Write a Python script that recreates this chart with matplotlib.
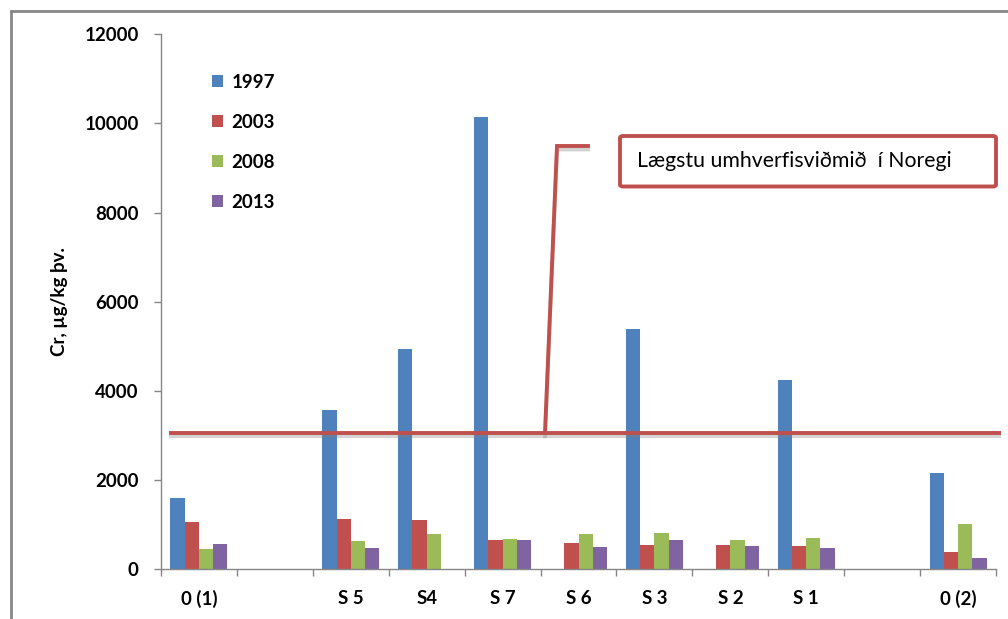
import numpy as np
import matplotlib
matplotlib.use("Agg")
import matplotlib.pyplot as plt
import matplotlib.patheffects as pe
from matplotlib.patches import FancyBboxPatch
from matplotlib.lines import Line2D

plt.rcParams['font.family'] = ['Lato', 'DejaVu Sans']

categories = ["0 (1)", "", "S 5", "S4", "S 7", "S 6", "S 3", "S 2", "S 1", "", "0 (2)"]
years = ["1997", "2003", "2008", "2013"]
v1997 = [1600, np.nan, 3580, 4950, 10150, np.nan, 5400, np.nan, 4250, np.nan, 2170]
v2003 = [1060, np.nan, 1130, 1100, 660, 590, 540, 540, 520, np.nan, 380]
v2008 = [450, np.nan, 640, 800, 680, 800, 820, 660, 700, np.nan, 1010]
v2013 = [560, np.nan, 470, np.nan, 660, 500, 660, 520, 470, np.nan, 260]
limit_value = 3060
limit_label = "Lægstu umhverfisviðmið  í Noregi"
ylabel = "Cr, µg/kg þv."
yticks = [0, 2000, 4000, 6000, 8000, 10000, 12000]

colors = ["#4F81BD", "#C0504D", "#9BBB59", "#8064A2"]
series = [v1997, v2003, v2008, v2013]

W, H = 1008, 619
fig = plt.figure(figsize=(W / 100, H / 100), dpi=100)

def fx(px):
    return px / W

def fy(py):
    return 1 - py / H

ax_l, ax_r, ax_t, ax_b = 161, 996, 34.3, 569.3
ax = fig.add_axes([fx(ax_l), fy(ax_b), fx(ax_r) - fx(ax_l), fy(ax_t) - fy(ax_b)])

x = np.arange(len(categories))
bw = 0.1875
for i, (vals, c, lab) in enumerate(zip(series, colors, years)):
    ax.bar(x + (i - 1.5) * bw, vals, width=bw, color=c, label=lab, linewidth=0)

ax.set_xlim(-0.5, len(categories) - 0.5)
ax.set_ylim(0, 12000)
ax.set_yticks(yticks)
ax.set_yticklabels([str(t) for t in yticks], fontsize=13.5, fontweight='bold')
ax.set_xticks(x)
ax.set_xticklabels(categories, fontsize=13.5, fontweight='bold')
ax.set_xticks(np.arange(len(categories) + 1) - 0.5, minor=True)
ax.tick_params(axis='x', which='major', length=0, pad=15)
ax.tick_params(axis='x', which='minor', length=5, color='#868686', width=1, direction='out')
ax.tick_params(axis='y', length=5, color='#868686', width=1, direction='out', pad=11)

for s in ['top', 'right']:
    ax.spines[s].set_visible(False)
for s in ['left', 'bottom']:
    ax.spines[s].set_color('#868686')
    ax.spines[s].set_linewidth(1)

ax.set_ylabel(ylabel, fontsize=13.5, fontweight='bold')
ax.yaxis.set_label_coords((68 - ax_l) / (ax_r - ax_l), 0.5)

# limit line
shadow = [pe.SimpleLineShadow(offset=(0, -2.5), shadow_color='gray', alpha=0.35), pe.Normal()]
x0 = (169 - ax_l) / (ax_r - ax_l)
x1 = (1001 - ax_l) / (ax_r - ax_l)
ax.plot([x0, x1], [limit_value, limit_value], color='#C0504D', lw=2.8,
        transform=ax.get_yaxis_transform(), clip_on=False, zorder=5,
        path_effects=shadow, solid_capstyle='butt')

# callout connector
ly = fy(ax_b - (ax_b - ax_t) * limit_value / 12000)
conn = Line2D([fx(545), fx(557), fx(588)], [ly, fy(146), fy(146)],
              transform=fig.transFigure, color='#C0504D', lw=2.8,
              path_effects=shadow, solid_joinstyle='miter')
fig.add_artist(conn)

box = FancyBboxPatch((fx(620), fy(186.5)), fx(996) - fx(620), fy(136) - fy(186.5),
                     boxstyle="round,pad=0,rounding_size=0.003",
                     transform=fig.transFigure, facecolor='white',
                     edgecolor='#C0504D', linewidth=2.8)
fig.add_artist(box)
fig.text(fx(637), fy(161), limit_label, fontsize=15.3, va='center', ha='left')

# legend
leg = ax.legend(loc='upper left', bbox_to_anchor=(fx(212), fy(74)),
                bbox_transform=fig.transFigure, frameon=False,
                prop={'size': 13.5, 'weight': 'bold'}, handlelength=0.6,
                handleheight=0.6, handletextpad=0.45, labelspacing=1.22,
                borderpad=0, borderaxespad=0)

# outer frame
fig.add_artist(Line2D([fx(10.5), fx(10.5)], [0, fy(10.5)], transform=fig.transFigure,
                      color='#878787', lw=2))
fig.add_artist(Line2D([fx(10.5), 1], [fy(10.5), fy(10.5)], transform=fig.transFigure,
                      color='#878787', lw=2))

fig.savefig("out.png", dpi=100)
